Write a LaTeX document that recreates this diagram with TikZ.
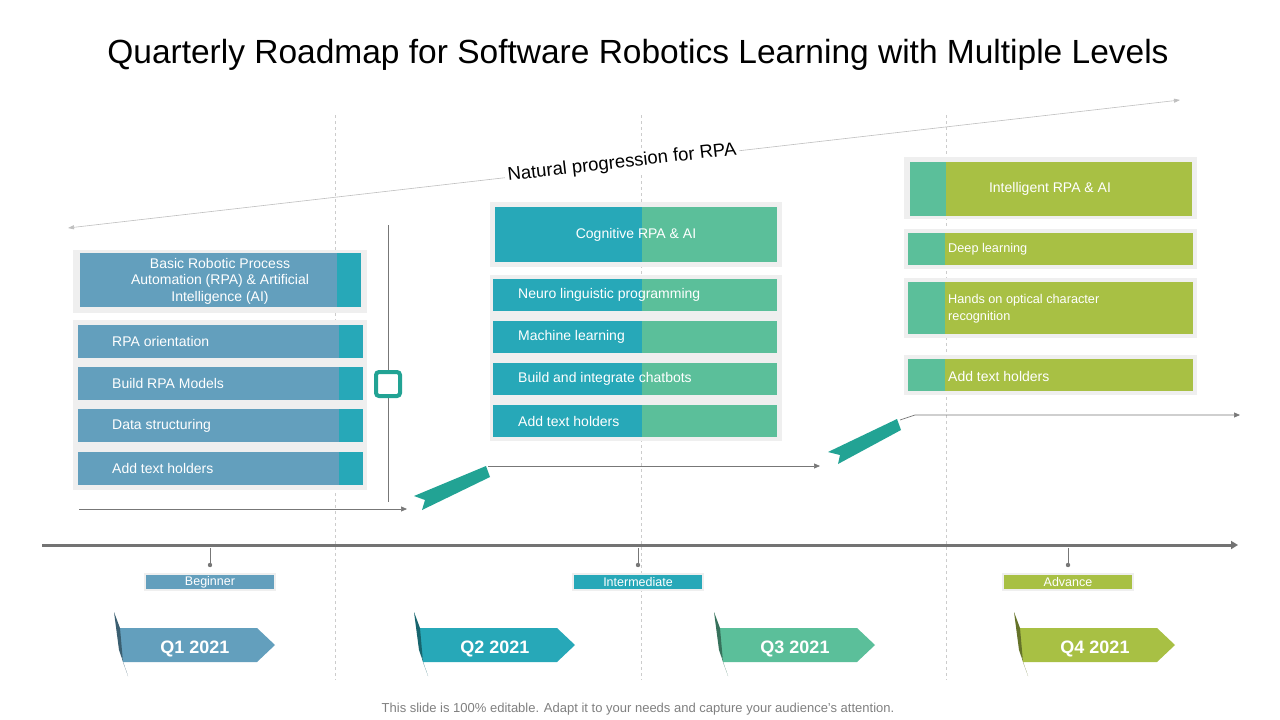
\documentclass[tikz,border=0pt]{standalone}
\usepackage{fontspec}
\setmainfont{Liberation Sans}
\usetikzlibrary{arrows.meta}
\definecolor{cb}{HTML}{639FBD}
\definecolor{ct}{HTML}{27A8B8}
\definecolor{cg}{HTML}{5BBF9A}
\definecolor{co}{HTML}{A8C044}
\definecolor{cd}{HTML}{22A394}
\definecolor{pan}{HTML}{EFEFEF}
\definecolor{ln}{HTML}{777777}
\tikzset{
 panel/.style={fill=pan,draw=none},
 txt/.style={text=white,font=\fontsize{14}{16}\selectfont,anchor=west,inner sep=0},
 ctxt/.style={text=white,font=\fontsize{14}{16.5}\selectfont,align=center,inner sep=0},
 conn/.style={draw=ln,line width=0.7pt,-{Triangle[length=6pt,width=5pt]}},
 qtxt/.style={text=white,font=\bfseries\fontsize{18}{20}\selectfont},
 lvl/.style={text=white,font=\fontsize{12.5}{13}\selectfont,inner sep=0}
}
\begin{document}
\begin{tikzpicture}[x=1pt,y=-1pt]
\useasboundingbox (0,0) rectangle (1280,720);
\fill[white] (0,0) rectangle (1280,720);
\node[font=\fontsize{33.5}{38}\selectfont] (title) at (638,55) {Quarterly Roadmap for Software Robotics Learning with Multiple Levels};
\foreach \x in {335,641,946} \draw[gray!40,dashed] (\x,115) -- (\x,680);
% progression
\coordinate (pa) at (68,228); \coordinate (pb) at (1180,100);
\draw[gray!50,line width=0.6pt,{Triangle[length=6pt,width=4pt]}-{Triangle[length=6pt,width=4pt]}] (pa) -- (pb);
\node[fill=white,rotate=6.57,font=\fontsize{18.5}{20}\selectfont,inner sep=3pt] (prog) at (622,163) {Natural progression for RPA};
% left group
\fill[panel] (73,250) rectangle (367,313);
\fill[cb] (80,253) rectangle (361,307); \fill[ct] (337,253) rectangle (361,307);
\node[ctxt] (l0) at (220,281) {Basic Robotic Process\\Automation (RPA) \& Artificial\\Intelligence (AI)};
\fill[panel] (73,320) rectangle (367,490);
\foreach \y/\t [count=\i] in {325/RPA orientation,367/Build RPA Models,409/Data structuring,452/Add text holders}{
 \fill[cb] (78,\y) rectangle (363,\y+33); \fill[ct] (339,\y) rectangle (363,\y+33);
 \node[txt] (l\i) at (112,\y+16.5) {\t};}
\draw[ln,line width=0.7pt] (388,225) -- (388,502);
\node[draw=cd,line width=4pt,fill=white,rounded corners=3pt,minimum size=24pt,inner sep=0] (sq) at (388,384) {};
% middle group
\fill[panel] (490,202) rectangle (782,267);
\fill[ct] (495,207) rectangle (642,262); \fill[cg] (642,207) rectangle (777,262);
\node[ctxt] (m0) at (636,235) {Cognitive RPA \& AI};
\fill[panel] (490,275) rectangle (782,441);
\foreach \y/\t [count=\i] in {279/Neuro linguistic programming,321/Machine learning,363/Build and integrate chatbots,405/Add text holders}{
 \fill[ct] (493,\y) rectangle (642,\y+32); \fill[cg] (642,\y) rectangle (777,\y+32);
 \node[txt] (m\i) at (518,\y+16) {\t};}
% right group
\fill[panel] (904,157) rectangle (1197,219);
\fill[co] (910,162) rectangle (1192,216); \fill[cg] (910,162) rectangle (946,216);
\node[ctxt] (r0) at (1050,189) {Intelligent RPA \& AI};
\fill[panel] (904,229) rectangle (1197,269);
\fill[panel] (904,278) rectangle (1197,338);
\fill[panel] (904,355) rectangle (1197,395);
\foreach \y/\h [count=\i] in {233/32,282/52,359/32}{
 \fill[co] (908,\y) rectangle (1193,\y+\h); \fill[cg] (908,\y) rectangle (945,\y+\h);}
\node[txt,font=\fontsize{12.7}{15}\selectfont] (r1) at (948,249) {Deep learning};
\node[txt,font=\fontsize{12.7}{17}\selectfont,align=left] (r2) at (948,309) {Hands on optical character\\recognition};
\node[txt] (r3) at (948,376) {Add text holders};
% path connectors
\coordinate (c1) at (79,509); \coordinate (c2) at (407,509);
\draw[conn] (c1) -- (c2);
\fill[cd] (414,496) -- (486,466) -- (490,477) -- (422,510) -- (425,500) -- cycle;
\coordinate (c3) at (488,466); \coordinate (c4) at (820,466);
\draw[conn] (c3) -- (c4);
\fill[cd] (828,452) -- (897,419) -- (901,430) -- (838,464) -- (840,455) -- cycle;
\coordinate (c5) at (900,420); \coordinate (c6) at (915,415); \coordinate (c7) at (1240,415);
\draw[conn] (c5) -- (c6) -- (c7);
% timeline
\coordinate (t1) at (42,545); \coordinate (t2) at (1238,545);
\draw[gray!90!black,line width=3pt,-{Triangle[length=7pt,width=8pt]}] (t1) -- (t2);
\foreach \x/\c/\t [count=\i] in {210/cb/Beginner,638/ct/Intermediate,1068/co/Advance}{
 \draw[ln,line width=0.7pt] (\x,548) -- (\x,564); \fill[ln] (\x,565) circle (2.2pt);
 \node[lvl,fill=\c,draw=pan,line width=1.5pt,minimum width=130pt,minimum height=16pt] (lv\i) at (\x,582) {\t};}
% quarter arrows
\foreach \x/\c/\t [count=\i] in {118/cb/Q1 2021,418/ct/Q2 2021,718/cg/Q3 2021,1018/co/Q4 2021}{
 \fill[\c] (\x,628) -- (\x+139,628) -- (\x+157,645) -- (\x+139,662) -- (\x+5,662) -- cycle;
 \fill[\c!60!black] (\x-4,612) -- (\x+2,628) -- (\x+5,662) -- (\x+10,676) -- (\x+1,650) -- cycle;
 \node[qtxt] (q\i) at (\x+77,649) {\t};}
\node[text=gray,font=\fontsize{13}{15}\selectfont] (foot) at (638,709) {This slide is 100\% editable. Adapt it to your needs and capture your audience's attention.};
\end{tikzpicture}
\end{document}
